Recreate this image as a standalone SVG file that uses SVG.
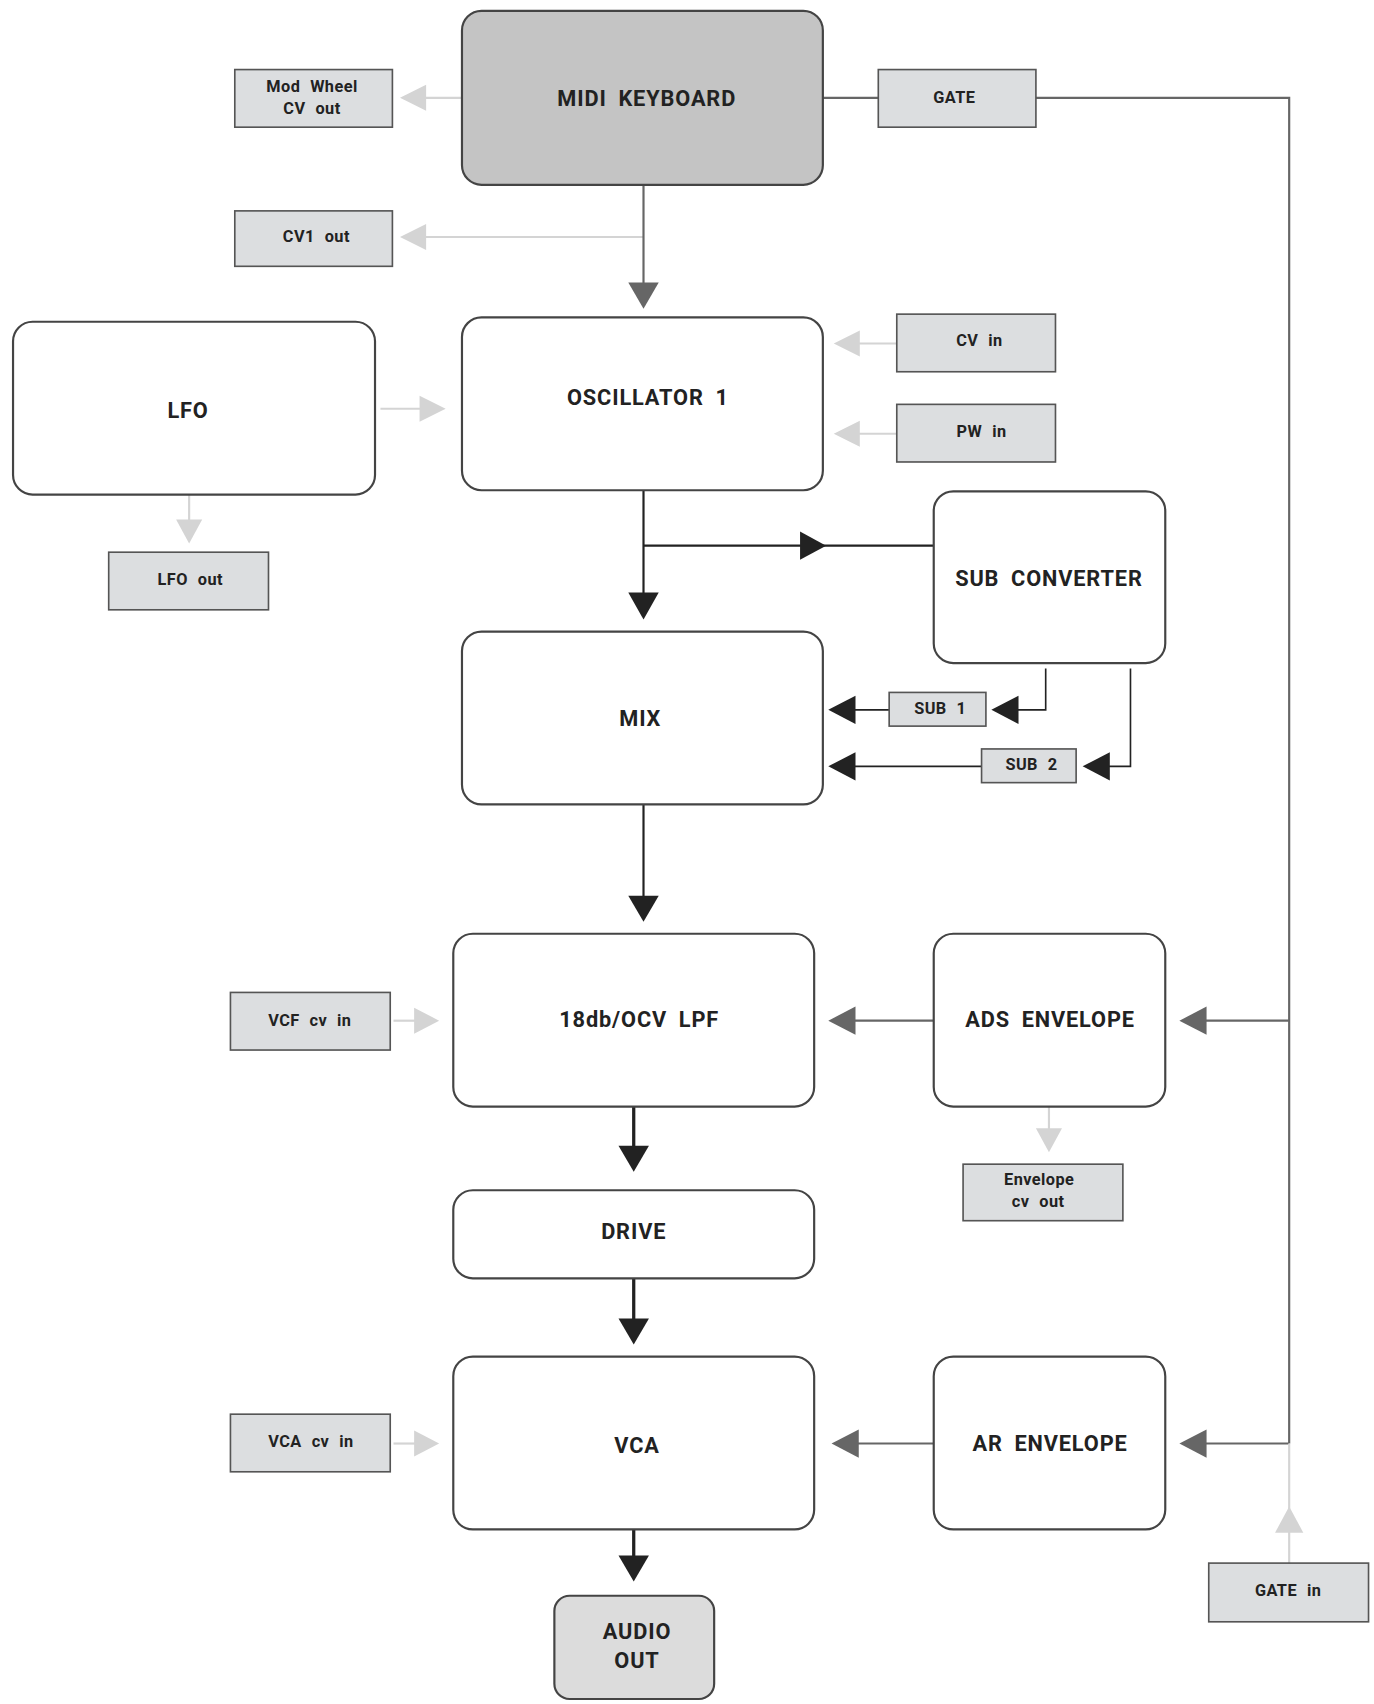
<svg xmlns="http://www.w3.org/2000/svg" width="1374" height="1704" viewBox="0 0 1374 1704">
<style>
.n{fill:#fff;stroke:#444;stroke-width:2}
.b{fill:#dcdee0;stroke:#555;stroke-width:1.5}
text{font-family:Roboto,"Liberation Sans",sans-serif;font-weight:bold;fill:#222;text-anchor:middle;dominant-baseline:central;word-spacing:5px}
.t{font-size:20px;letter-spacing:0.8px}
.s{font-size:15px;letter-spacing:0.4px}
.k{stroke:#222;stroke-width:2;fill:none}
.g{stroke:#666;stroke-width:2;fill:none}
.l{stroke:#d4d4d4;stroke-width:2;fill:none}
</style>
<rect width="1374" height="1704" fill="#fff"/>
<g transform="scale(1.087)">
<g id="connectors">
<path class="g" d="M757 90H808M953 90H1186V1328"/>
<path class="l" d="M425 90H385"/><polygon points="368,90 392,78 392,102" fill="#d4d4d4"/>
<path class="l" d="M592 218H385"/><polygon points="368,218 392,206 392,230" fill="#d4d4d4"/>
<path class="g" d="M592 170V262"/><polygon points="592,284 578,260 606,260" fill="#666"/>
<path class="l" d="M350 376H390"/><polygon points="410,376 386,364 386,388" fill="#d4d4d4"/>
<path class="l" d="M174 455V480"/><polygon points="174,500 162,478 186,478" fill="#d4d4d4"/>
<path class="l" d="M825 316H790"/><polygon points="767,316 791,304 791,328" fill="#d4d4d4"/>
<path class="l" d="M825 399H790"/><polygon points="767,399 791,387 791,411" fill="#d4d4d4"/>
<path class="k" d="M592 451V548M592 502H860"/><polygon points="592,570 578,545 606,545" fill="#222"/>
<polygon points="760,502 736,489 736,515" fill="#222"/>
<path class="k" d="M962 615V653H935M818 653H785" style="stroke-width:1.5"/>
<polygon points="912,653 937,640 937,666" fill="#222"/><polygon points="762,653 787,640 787,666" fill="#222"/>
<path class="k" d="M1040 615V705H1018M903 705H785" style="stroke-width:1.5"/>
<polygon points="996,705 1021,692 1021,718" fill="#222"/><polygon points="762,705 787,692 787,718" fill="#222"/>
<path class="k" d="M592 740V826"/><polygon points="592,848 578,824 606,824" fill="#222"/>
<path class="l" d="M362 939H384"/><polygon points="404,939 381,927 381,951" fill="#d4d4d4"/>
<path class="g" d="M859 939H785"/><polygon points="762,939 787,926 787,952" fill="#666"/>
<path class="g" d="M1186 939H1108"/><polygon points="1085,939 1110,926 1110,952" fill="#666"/>
<path class="l" d="M965 1018V1040"/><polygon points="965,1060 953,1038 977,1038" fill="#d4d4d4"/>
<path class="k" d="M583 1018V1055" style="stroke-width:3"/><polygon points="583,1078 569,1054 597,1054" fill="#222"/>
<path class="k" d="M583 1176V1214" style="stroke-width:3"/><polygon points="583,1237 569,1213 597,1213" fill="#222"/>
<path class="l" d="M362 1328H384"/><polygon points="404,1328 381,1316 381,1340" fill="#d4d4d4"/>
<path class="g" d="M859 1328H788"/><polygon points="765,1328 790,1315 790,1341" fill="#666"/>
<path class="g" d="M1186 1328H1108"/><polygon points="1085,1328 1110,1315 1110,1341" fill="#666"/>
<path class="l" d="M1186 1328V1438"/><polygon points="1186,1386 1173,1410 1199,1410" fill="#d4d4d4"/>
<path class="k" d="M583 1407V1432" style="stroke-width:3"/><polygon points="583,1455 569,1431 597,1431" fill="#222"/>
</g>
<g id="midi"><rect x="425" y="10" width="332" height="160" rx="18" fill="#c4c4c4" stroke="#444" stroke-width="2"/><text class="t" x="595" y="91">MIDI KEYBOARD</text></g>
<g id="modwheel"><rect class="b" x="216" y="64" width="145" height="53"/><text class="s" x="287" y="80">Mod Wheel</text><text class="s" x="287" y="100">CV out</text></g>
<g id="gate"><rect class="b" x="808" y="64" width="145" height="53"/><text class="s" x="878" y="90">GATE</text></g>
<g id="cv1out"><rect class="b" x="216" y="194" width="145" height="51"/><text class="s" x="291" y="218">CV1 out</text></g>
<g id="osc"><rect class="n" x="425" y="292" width="332" height="159" rx="18"/><text class="t" x="596" y="366">OSCILLATOR 1</text></g>
<g id="lfo"><rect class="n" x="12" y="296" width="333" height="159" rx="18"/><text class="t" x="173" y="378">LFO</text></g>
<g id="lfoout"><rect class="b" x="100" y="508" width="147" height="53"/><text class="s" x="175" y="533">LFO out</text></g>
<g id="cvin"><rect class="b" x="825" y="289" width="146" height="53"/><text class="s" x="901" y="313">CV in</text></g>
<g id="pwin"><rect class="b" x="825" y="372" width="146" height="53"/><text class="s" x="903" y="397">PW in</text></g>
<g id="sub"><rect class="n" x="859" y="452" width="213" height="158" rx="18"/><text class="t" x="965" y="532">SUB CONVERTER</text></g>
<g id="mix"><rect class="n" x="425" y="581" width="332" height="159" rx="18"/><text class="t" x="589" y="661">MIX</text></g>
<g id="sub1"><rect class="b" x="818" y="637" width="89" height="31"/><text class="s" x="865" y="652">SUB 1</text></g>
<g id="sub2"><rect class="b" x="903" y="689" width="87" height="31"/><text class="s" x="949" y="703">SUB 2</text></g>
<g id="lpf"><rect class="n" x="417" y="859" width="332" height="159" rx="18"/><text class="t" x="588" y="938">18db/OCV LPF</text></g>
<g id="vcfin"><rect class="b" x="212" y="913" width="147" height="53"/><text class="s" x="285" y="939">VCF cv in</text></g>
<g id="ads"><rect class="n" x="859" y="859" width="213" height="159" rx="18"/><text class="t" x="966" y="938">ADS ENVELOPE</text></g>
<g id="envout"><rect class="b" x="886" y="1071" width="147" height="52"/><text class="s" x="956" y="1085">Envelope</text><text class="s" x="955" y="1105">cv out</text></g>
<g id="drive"><rect class="n" x="417" y="1095" width="332" height="81" rx="18"/><text class="t" x="583" y="1133">DRIVE</text></g>
<g id="vca"><rect class="n" x="417" y="1248" width="332" height="159" rx="18"/><text class="t" x="586" y="1330">VCA</text></g>
<g id="vcain"><rect class="b" x="212" y="1301" width="147" height="53"/><text class="s" x="286" y="1326">VCA cv in</text></g>
<g id="ar"><rect class="n" x="859" y="1248" width="213" height="159" rx="18"/><text class="t" x="966" y="1328">AR ENVELOPE</text></g>
<g id="gatein"><rect class="b" x="1112" y="1438" width="147" height="54"/><text class="s" x="1185" y="1463">GATE in</text></g>
<g id="audio"><rect x="510" y="1468" width="147" height="95" rx="14" fill="#dcdcdc" stroke="#444" stroke-width="2"/><text class="t" x="586" y="1501">AUDIO</text><text class="t" x="586" y="1528">OUT</text></g>
</g>
</svg>
